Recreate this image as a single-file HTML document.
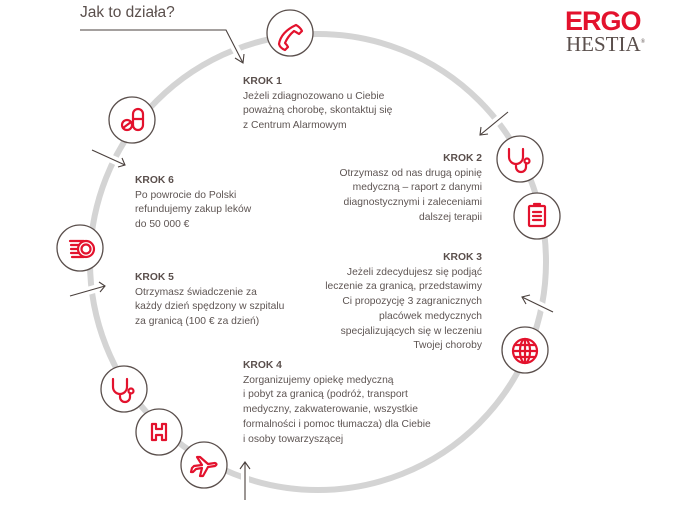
<!DOCTYPE html>
<html><head><meta charset="utf-8"><style>
body{margin:0;width:674px;height:517px;background:#fff;position:relative;overflow:hidden;font-family:"Liberation Sans",sans-serif;}
.t{position:absolute;font-size:10.3px;line-height:14.7px;color:#5e5553;white-space:nowrap;}
.t b{color:#5a4f4c;}
.r{text-align:right;}
</style></head><body>
<svg width="674" height="517" style="position:absolute;left:0;top:0">
<circle cx="318" cy="262" r="228" fill="none" stroke="#d4d4d4" stroke-width="6"/>
<g stroke="#fff" stroke-width="8">
<line x1="508" y1="112" x2="480" y2="135"/>
<line x1="553" y1="312" x2="522" y2="297"/>
<line x1="92" y1="150" x2="125" y2="165"/>
<line x1="70" y1="296" x2="105" y2="286"/>
<line x1="245" y1="500" x2="245" y2="462"/>
<line x1="225" y1="30" x2="243" y2="62"/>
</g>
<g stroke="#4a403d" stroke-width="1.1" fill="none">
<polyline points="80,30 226,30 243,63"/><polyline points="235,58 243,63 244,54"/>
<line x1="508" y1="112" x2="480" y2="135"/><polyline points="481,127 480,135 488,134"/>
<line x1="553" y1="312" x2="522" y2="297"/><polyline points="526,304 522,297 530,295"/>
<line x1="92" y1="150" x2="125" y2="165"/><polyline points="118,167 125,165 122,158"/>
<line x1="70" y1="296" x2="105" y2="286"/><polyline points="99,282 105,286 100,292"/>
<line x1="245" y1="500" x2="245" y2="462"/><polyline points="240,469 245,462 250,469"/>
</g>
<g fill="#fff" stroke="#5a4f4c" stroke-width="1.3">
<circle cx="290" cy="33" r="23"/><circle cx="132" cy="120" r="23"/>
<circle cx="520" cy="159" r="23"/><circle cx="537" cy="216" r="23"/>
<circle cx="525" cy="350" r="23"/><circle cx="80" cy="248" r="23"/>
<circle cx="124" cy="389" r="23"/><circle cx="159" cy="432" r="23"/>
<circle cx="204" cy="465" r="23"/>
</g>
<g fill="none" stroke="#e3122d" stroke-width="2.2" stroke-linecap="round" stroke-linejoin="round">
<path d="M296 25 q4 2 6 6 l-3 3 q-3-2-5-3 q-6 5-9 12 q2 2 3 4 l-3 3 q-5-2-6-6 q2-12 17-19z"/>
<rect x="133" y="109" width="10" height="21" rx="5"/><circle cx="127" cy="125" r="5"/><line x1="123" y1="128" x2="131" y2="122"/>
<line x1="133" y1="119" x2="143" y2="119"/>
<path d="M509 149 v8 a7 7 0 0 0 14 0 v-8 M516 164 v3 a5 5 0 0 0 10 0 v-4"/><circle cx="527" cy="161" r="2.5"/>
<rect x="529" y="206" width="16" height="20" rx="1"/><line x1="534" y1="204" x2="540" y2="204"/>
<line x1="533" y1="212" x2="541" y2="212"/><line x1="533" y1="216" x2="541" y2="216"/><line x1="533" y1="220" x2="541" y2="220"/>
<circle cx="525" cy="351" r="12"/><ellipse cx="525" cy="351" rx="5" ry="12"/><line x1="513" y1="351" x2="537" y2="351"/>
<line x1="515" y1="345" x2="535" y2="345"/><line x1="515" y1="357" x2="535" y2="357"/><line x1="525" y1="339" x2="525" y2="363"/>
<circle cx="86" cy="249" r="8"/><circle cx="86" cy="249" r="4.5"/>
<line x1="70" y1="241" x2="84" y2="241"/><line x1="71" y1="245" x2="78" y2="245"/><line x1="71" y1="249" x2="77" y2="249"/><line x1="71" y1="253" x2="78" y2="253"/><line x1="72" y1="257" x2="84" y2="257"/>
<path d="M113 379 v8 a7 7 0 0 0 14 0 v-8 M120 394 v3 a5 5 0 0 0 10 0 v-4"/><circle cx="131" cy="391" r="2.5"/>
<path d="M152 424 h4 v5 h6 v-5 h4 v16 h-4 v-5 h-6 v5 h-4z"/>
<path d="M194 466 l8-1 l-5-8 l3 0 l8 7 l7-1 q3 1 0 3 l-7 1 l-5 9 l-3 0 l2-8 l-6 1 l-3 3 l-2 0 l1-4z"/>
</g>
</svg>
<div class="t" style="left:80px;top:6px;font-size:15.5px;color:#5a4f4c">Jak to działa?</div>
<div style="position:absolute;left:565px;top:6px;font:bold 27px 'Liberation Sans',sans-serif;color:#e3122d;letter-spacing:-1px">ERGO</div>
<div style="position:absolute;left:566px;top:32px;font:21px 'Liberation Serif',serif;color:#5a4f4c;letter-spacing:0px">HESTIA<sup style="font-size:6px">®</sup></div>
<div class="t" style="left:243px;top:75px"><b>KROK 1</b><br>Jeżeli zdiagnozowano u Ciebie<br>poważną chorobę, skontaktuj się<br>z Centrum Alarmowym</div>
<div class="t r" style="right:192px;top:152px"><b>KROK 2</b><br>Otrzymasz od nas drugą opinię<br>medyczną – raport z danymi<br>diagnostycznymi i zaleceniami<br>dalszej terapii</div>
<div class="t r" style="right:192px;top:251px"><b>KROK 3</b><br>Jeżeli zdecydujesz się podjąć<br>leczenie za granicą, przedstawimy<br>Ci propozycję 3 zagranicznych<br>placówek medycznych<br>specjalizujących się w leczeniu<br>Twojej choroby</div>
<div class="t" style="left:243px;top:359px"><b>KROK 4</b><br>Zorganizujemy opiekę medyczną<br>i pobyt za granicą (podróż, transport<br>medyczny, zakwaterowanie, wszystkie<br>formalności i pomoc tłumacza) dla Ciebie<br>i osoby towarzyszącej</div>
<div class="t" style="left:135px;top:271px"><b>KROK 5</b><br>Otrzymasz świadczenie za<br>każdy dzień spędzony w szpitalu<br>za granicą (100 € za dzień)</div>
<div class="t" style="left:135px;top:174px"><b>KROK 6</b><br>Po powrocie do Polski<br>refundujemy zakup leków<br>do 50 000 €</div>
</body></html>
